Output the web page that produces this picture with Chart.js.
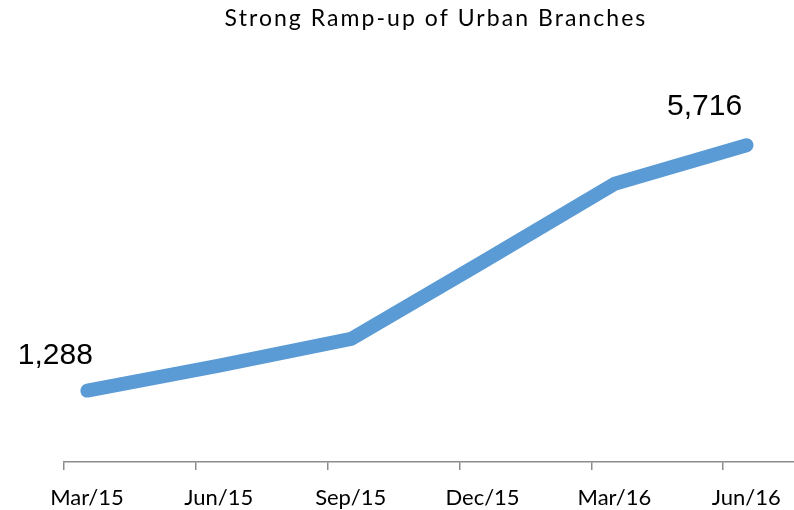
<!DOCTYPE html>
<html>
<head>
<meta charset="utf-8">
<script src="https://cdn.jsdelivr.net/npm/chart.js@4"></script>
<style>
  html, body { margin: 0; padding: 0; background: #ffffff; }
  #wrap { width: 794px; height: 510px; position: relative; }
</style>
</head>
<body>
<div id="wrap"><canvas id="c"></canvas></div>
<script>
// ---- data ----
const categories = ['Mar/15', 'Jun/15', 'Sep/15', 'Dec/15', 'Mar/16', 'Jun/16'];
const branches = [1288, 1740, 2220, 3610, 5020, 5716];
const labeledIndices = [0, 5];
const titleText = 'Strong Ramp-up of Urban Branches';

// ---- style ----
const lineColor = '#5B9BD5';
const axisColor = '#8c8c8c';
const tickShift = 0.177;   // axis tick marks sit before each category point

const valueLabels = {
  id: 'valueLabels',
  afterDatasetsDraw(chart) {
    const meta = chart.getDatasetMeta(0);
    const ctx = chart.ctx;
    ctx.save();
    ctx.font = '30px "Liberation Sans", Arial, sans-serif';
    ctx.fillStyle = '#000000';
    ctx.textAlign = 'center';
    ctx.textBaseline = 'middle';
    const offs = { 0: [-32, -35], 5: [-42, -38] };
    labeledIndices.forEach(i => {
      const el = meta.data[i];
      const o = offs[i];
      ctx.fillText(branches[i].toLocaleString('en-US'), el.x + o[0], el.y + o[1]);
    });
    ctx.restore();
  }
};

const spacedTitle = {
  id: 'spacedTitle',
  afterDraw(chart) {
    const ctx = chart.ctx;
    const ca = chart.chartArea;
    ctx.save();
    ctx.font = '23px Lato, "Open Sans", sans-serif';
    ctx.fillStyle = '#000000';
    ctx.textAlign = 'center';
    ctx.textBaseline = 'middle';
    if ('letterSpacing' in ctx) ctx.letterSpacing = '2.05px';
    ctx.fillText(titleText, (ca.left + ca.right) / 2 + 7, 19);
    ctx.restore();
  }
};

new Chart(document.getElementById('c'), {
  type: 'line',
  data: {
    datasets: [{
      data: branches.map((v, i) => ({ x: i, y: v })),
      borderColor: lineColor,
      backgroundColor: lineColor,
      borderWidth: 14,
      borderCapStyle: 'round',
      borderJoinStyle: 'round',
      pointRadius: 0,
      pointHoverRadius: 0,
      tension: 0,
      fill: false
    }]
  },
  options: {
    responsive: true,
    maintainAspectRatio: false,
    animation: false,
    events: [],
    layout: { padding: { left: 64, right: 0, top: 74, bottom: 0 } },
    plugins: {
      legend: { display: false },
      tooltip: { enabled: false },
      title: { display: false }
    },
    scales: {
      x: {
        type: 'linear',
        min: -tickShift,
        max: 5.36,
        afterBuildTicks(scale) {
          scale.ticks = categories.map((_, i) => ({ value: i - tickShift }));
        },
        afterFit(scale) { scale.height = 48; },
        grid: {
          display: true,
          drawOnChartArea: false,
          drawTicks: true,
          tickLength: 8,
          color: axisColor,
          lineWidth: 1.5
        },
        border: { display: true, color: axisColor, width: 1.5 },
        ticks: {
          autoSkip: false,
          maxRotation: 0,
          minRotation: 0,
          labelOffset: 23,
          padding: 15,
          color: '#000000',
          font: { family: 'Lato, "Open Sans", sans-serif', size: 22 },
          callback: (value, index) => categories[index]
        }
      },
      y: {
        display: false,
        min: 0,
        max: 7000
      }
    }
  },
  plugins: [valueLabels, spacedTitle]
});
</script>
</body>
</html>
